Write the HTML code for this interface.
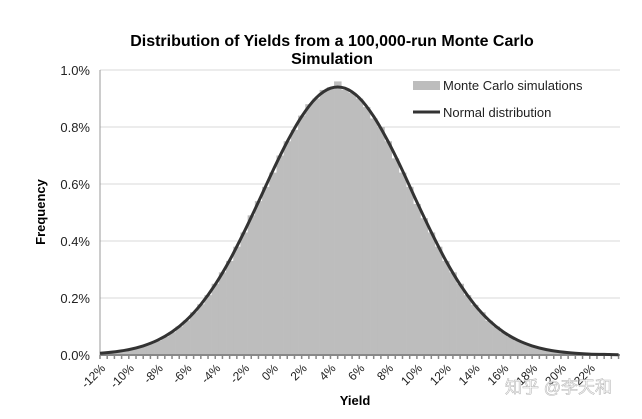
<!DOCTYPE html>
<html><head><meta charset="utf-8"><style>
body{margin:0;background:#fff;}
svg{display:block;font-family:"Liberation Sans",Arial,sans-serif;}
</style></head><body>
<svg id="c" width="642" height="419">
<text x="332" y="46" text-anchor="middle" font-size="16" font-weight="bold">Distribution of Yields from a 100,000-run Monte Carlo</text>
<text x="332" y="64" text-anchor="middle" font-size="16" font-weight="bold">Simulation</text>
<text transform="translate(45,212) rotate(-90)" text-anchor="middle" font-size="13" font-weight="bold">Frequency</text>
<text x="355" y="405" text-anchor="middle" font-size="13" font-weight="bold">Yield</text>
<g id="grid"></g><g id="bars"></g><g id="axes"></g><g id="curve"></g>
<g>
<rect x="413" y="81" width="27" height="9" fill="#bdbdbd"/>
<text x="443" y="90" font-size="13" fill="#222">Monte Carlo simulations</text>
<line x1="413" y1="112" x2="440" y2="112" stroke="#333" stroke-width="3"/>
<text x="443" y="117" font-size="13" fill="#222">Normal distribution</text>
</g>
<text x="505" y="393" font-size="17" fill="#fff" stroke="#bbb" stroke-width="0.6" font-family="'Liberation Sans','Noto Sans CJK SC',sans-serif">知乎 @李天和</text>
</svg>
<script>
const yTicks=[0,0.2,0.4,0.6,0.8,1.0];
const xTicks=[-12,-10,-8,-6,-4,-2,0,2,4,6,8,10,12,14,16,18,20,22];
const curveX=[-12,-11,-10,-9,-8,-7,-6,-5,-4,-3,-2,-1,0,1,2,3,4,5,6,7,8,9,10,11,12,13,14,15,16,17,18,19,20,21,22,23,24];
const curveY=[.006,.011,.019,.032,.052,.081,.122,.177,.247,.332,.431,.537,.647,.749,.837,.902,.936,.936,.902,.837,.749,.647,.537,.431,.332,.247,.177,.122,.081,.052,.032,.019,.011,.006,.003,.002,.001];
const histStart=-12, histStep=0.5;
const histY=[.006,.008,.011,.015,.02,.025,.032,.04,.05,.064,.08,.1,.121,.15,.178,.21,.25,.29,.33,.38,.43,.49,.54,.59,.64,.70,.75,.79,.84,.88,.90,.93,.94,.96,.93,.92,.90,.87,.83,.80,.75,.69,.64,.59,.53,.48,.43,.38,.33,.29,.25,.21,.176,.15,.12,.10,.08,.064,.05,.04,.032,.025,.019,.015,.011,.008,.006,.004,.003,.002,.002,.001];
const X0=100,X1=620,Y0=355,Y1=70,XMIN=-12,XMAX=24.1;
const xs=v=>X0+(v-XMIN)/(XMAX-XMIN)*(X1-X0);
const ys=v=>Y0-(v/1.0)*(Y0-Y1);
const NS="http://www.w3.org/2000/svg";
function mk(tag,attrs,parent){const e=document.createElementNS(NS,tag);for(const k in attrs)e.setAttribute(k,attrs[k]);parent.appendChild(e);return e;}
const grid=document.getElementById('grid'),bars=document.getElementById('bars'),axes=document.getElementById('axes'),curve=document.getElementById('curve');
yTicks.forEach(t=>{
  if(t>0){const g=mk('line',{x1:X0,x2:X1,y1:ys(t),y2:ys(t),stroke:'#d9d9d9','stroke-width':1},grid);
  
  }
  const l=mk('text',{x:90,y:ys(t)+5,'text-anchor':'end','font-size':13,fill:'#222'},axes);
  l.textContent=t.toFixed(1)+'%';
  
  
});
const bw=xs(histStep)-xs(0);
histY.forEach((v,i)=>{
  const x=xs(histStart+i*histStep)-bw/2;
  const r=mk('rect',{x:Math.max(X0,x),y:ys(v),width:bw+0.3,height:Y0-ys(v),fill:'#bdbdbd'},bars);
  
  
});
const ax=mk('line',{x1:X0,x2:X1,y1:Y0,y2:Y0,stroke:'#888','stroke-width':2},axes);


const ay=mk('line',{x1:X0,x2:X0,y1:Y1,y2:Y0,stroke:'#999','stroke-width':1},axes);


for(let v=XMIN;v<=24;v+=0.5){
  const t=mk('line',{x1:xs(v),x2:xs(v),y1:Y0,y2:Y0+4,stroke:'#888','stroke-width':1.5},axes);
  
  
}
xTicks.forEach(t=>{
  const x=xs(t)+6,y=Y0+14;
  const l=mk('text',{x:x,y:y,'text-anchor':'end','font-size':12,fill:'#222',transform:`rotate(-45 ${x} ${y})`},axes);
  l.textContent=t+'%';
  
  
});
let d='';
curveX.forEach((v,i)=>{
  const px=xs(v),py=ys(curveY[i]);
  if(i===0){d+='M'+px.toFixed(1)+','+py.toFixed(1);return;}
  const p0=i>1?[xs(curveX[i-2]),ys(curveY[i-2])]:[xs(curveX[i-1]),ys(curveY[i-1])];
  const p1=[xs(curveX[i-1]),ys(curveY[i-1])];
  const p3=i<curveX.length-1?[xs(curveX[i+1]),ys(curveY[i+1])]:[px,py];
  const c1=[p1[0]+(px-p0[0])/6,p1[1]+(py-p0[1])/6];
  const c2=[px-(p3[0]-p1[0])/6,py-(p3[1]-p1[1])/6];
  d+=` C${c1[0].toFixed(1)},${c1[1].toFixed(1)} ${c2[0].toFixed(1)},${c2[1].toFixed(1)} ${px.toFixed(1)},${py.toFixed(1)}`;
});
const p=mk('path',{d:d,fill:'none',stroke:'#333','stroke-width':3,'stroke-linejoin':'round'},curve);


</script>
</body></html>
